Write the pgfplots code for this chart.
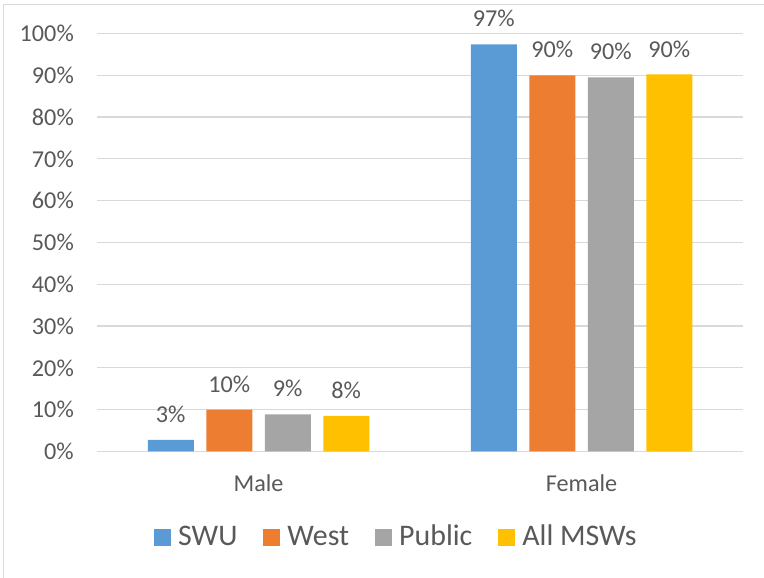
\documentclass[border=0pt]{standalone}
\usepackage{fontspec}
\setmainfont{Carlito}
\usepackage{pgfplots}
\pgfplotsset{compat=1.18}
\definecolor{swu}{HTML}{5B9BD5}
\definecolor{west}{HTML}{ED7D31}
\definecolor{public}{HTML}{A5A5A5}
\definecolor{allmsw}{HTML}{FFC000}
\definecolor{txtgray}{HTML}{595959}
\definecolor{gridgray}{HTML}{D9D9D9}
\newcommand\tickfont{\fontsize{24.3}{28}\selectfont}
\newcommand\legfont{\fontsize{30}{36}\selectfont}

\begin{document}
\begin{tikzpicture}
\path[use as bounding box] (0bp,0bp) rectangle (764bp,578bp);
% chart frame (only left and top edges are inside the picture)
\draw[gridgray, line width=1.5bp] (3.5bp,-5bp) -- (3.5bp,573.5bp) -- (770bp,573.5bp);
\begin{axis}[
    at={(97bp,126.5bp)}, anchor=south west,
    scale only axis,
    width=646bp, height=418bp,
    ybar=12.5bp, bar width=46bp,
    xmin=-0.5, xmax=1.5,
    ymin=0, ymax=100,
    xtick={0,1}, xticklabels={Male,Female},
    ytick={0,10,...,100},
    yticklabel={\pgfmathprintnumber{\tick}\%},
    /pgf/number format/assume math mode=true,
    axis x line*=bottom, axis y line*=left,
    x axis line style={gridgray, line width=1.5bp},
    y axis line style={draw=none},
    major tick length=0pt,
    ymajorgrids, grid style={gridgray, line width=1.2bp},
    ticklabel style={font=\tickfont, text=txtgray, inner sep=0pt},
    yticklabel style={anchor=east, xshift=-23bp},
    xticklabel style={anchor=north, yshift=-22.5bp},
    nodes near coords,
    point meta=explicit symbolic,
    every node near coord/.append style={font=\tickfont, text=txtgray,
        inner sep=0pt, anchor=south, yshift=17bp},
    clip=false,
    legend columns=4,
    legend image code/.code={\fill[#1] (0bp,0bp) rectangle (17bp,17bp);},
    legend style={at={(0.0882,-0.230)}, anchor=south west, draw=none, fill=none,
        inner sep=0pt, font=\legfont, text=txtgray,
        nodes={inner sep=0pt}, cells={anchor=base west},
        /tikz/every odd column/.append style={column sep=7bp},
        /tikz/every even column/.append style={column sep=26bp}},
]
\addplot[fill=swu, draw=none] coordinates {(0,2.8) [3\%] (1,97.4) [97\%]};
\addlegendentry{SWU}
\addplot[fill=west, draw=none] coordinates {(0,10.0) [10\%] (1,90.0) [90\%]};
\addlegendentry{West}
\addplot[fill=public, draw=none] coordinates {(0,8.9) [9\%] (1,89.5) [90\%]};
\addlegendentry{Public}
\addplot[fill=allmsw, draw=none] coordinates {(0,8.5) [8\%] (1,90.2) [90\%]};
\addlegendentry{All MSWs}
\end{axis}
\end{tikzpicture}
\end{document}
